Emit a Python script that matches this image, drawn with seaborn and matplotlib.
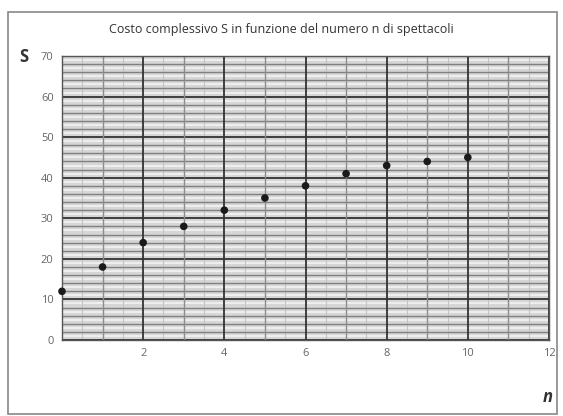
import numpy as np
import pandas as pd
import seaborn as sns
import matplotlib.pyplot as plt
from matplotlib.patches import Rectangle

# values
n_vals = [0, 1, 2, 3, 4, 5, 6, 7, 8, 9, 10]
s_vals = [12, 18, 24, 28, 32, 35, 38, 41, 43, 44, 45]
x_ticks = [2, 4, 6, 8, 10, 12]
y_ticks = [0, 10, 20, 30, 40, 50, 60, 70]
title = 'Costo complessivo S in funzione del numero n di spettacoli'

df = pd.DataFrame({'n': n_vals, 'S': s_vals})

sns.set_style('white')
plt.rcParams['font.family'] = ['Open Sans', 'DejaVu Sans']

fig = plt.figure(figsize=(5.63, 4.16), dpi=100)
ax = fig.add_axes([62 / 563, 1 - 340 / 416, 487 / 563, 284 / 416])
ax.set_facecolor('#d6d6d6')

# background grid, drawn by hand as in the worksheet
for v in np.arange(1, 70, 2):
    ax.axhline(v, color='#f4f4f4', lw=1.2, zorder=0.5)
for v in np.arange(0, 71, 2):
    ax.axhline(v, color='#808080' if v % 10 else '#333333',
               lw=1.0 if v % 10 else 1.3, zorder=0.6)
for v in np.arange(0.5, 12, 1):
    ax.axvline(v, color='#c4c4c4', lw=0.8, zorder=0.55)
for v in range(0, 13):
    ax.axvline(v, color='#8c8c8c' if v % 2 else '#333333',
               lw=1.0 if v % 2 else 1.3, zorder=0.6)

sns.scatterplot(data=df, x='n', y='S', ax=ax, color='#1a1a1a', s=30,
                edgecolor='none', zorder=3, clip_on=False)

ax.set_xlim(0, 12)
ax.set_ylim(0, 70)
ax.set_xticks(x_ticks)
ax.set_yticks(y_ticks)
ax.tick_params(labelsize=8, colors='#666666', length=0, pad=6)
ax.set_xlabel('')
ax.set_ylabel('')
for sp in ax.spines.values():
    sp.set_color('#555555')
    sp.set_linewidth(1.0)

fig.text(0.5, 1 - 30 / 416, title, ha='center', va='center', fontsize=9,
         color='#333333')
fig.text(24 / 563, 1 - 57 / 416, 'S', ha='center', va='center', fontsize=12,
         fontweight='bold', color='#333333')
fig.text(548 / 563, 1 - 397 / 416, 'n', ha='center', va='center', fontsize=12,
         fontweight='bold', color='#333333', style='italic')

fig.patches.append(Rectangle((8 / 563, 1 - 414 / 416), 549 / 563, 402 / 416,
                             transform=fig.transFigure, fill=False,
                             edgecolor='#888888', lw=1.2))

fig.savefig('out.png', dpi=100)
